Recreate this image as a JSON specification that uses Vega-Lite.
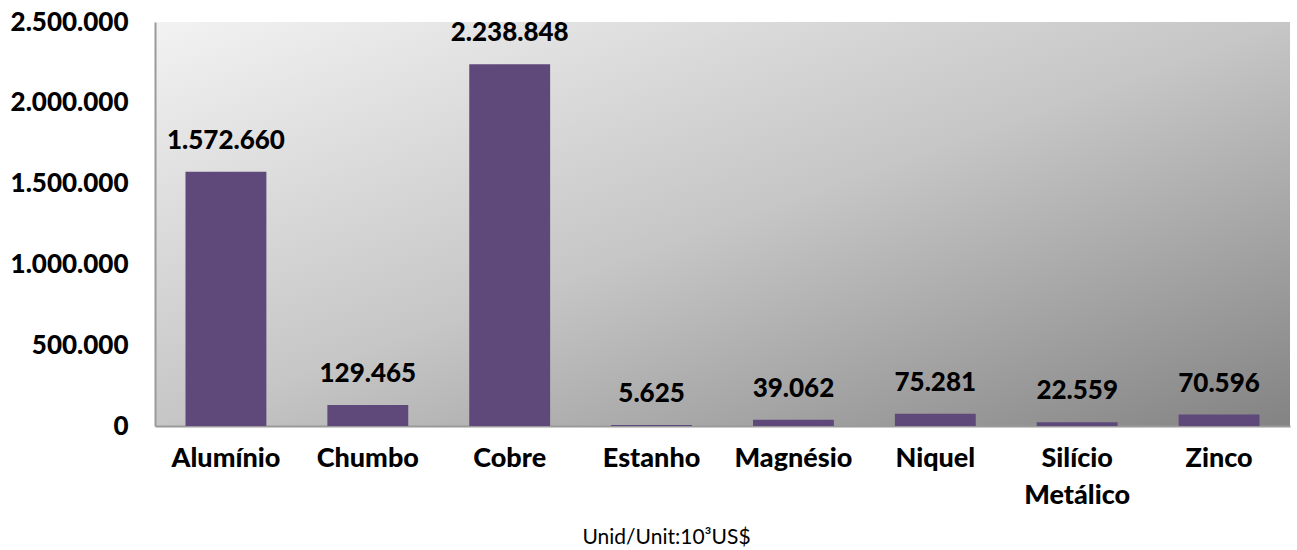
{
  "$schema": "https://vega.github.io/schema/vega-lite/v6.json",
  "autosize": {"type": "none"},
  "padding": {"left": 155, "top": 22, "right": 7, "bottom": 124},
  "width": 1135,
  "height": 404,
  "background": "white",
  "config": {
    "locale": {"number": {"decimal": ",", "thousands": ".", "grouping": [3], "currency": ["", ""]}},
    "view": {
      "stroke": null,
      "fill": {"gradient": "linear", "x1": 0, "y1": 0, "x2": 1, "y2": 1,
        "stops": [{"offset": 0, "color": "#f2f2f2"}, {"offset": 0.5, "color": "#c6c6c6"}, {"offset": 1, "color": "#838383"}]}
    },
    "font": "Lato"
  },
  "data": {"values": [
    {"metal": "Alumínio", "valor": 1572660},
    {"metal": "Chumbo", "valor": 129465},
    {"metal": "Cobre", "valor": 2238848},
    {"metal": "Estanho", "valor": 5625},
    {"metal": "Magnésio", "valor": 39062},
    {"metal": "Niquel", "valor": 75281},
    {"metal": "Silício Metálico", "valor": 22559},
    {"metal": "Zinco", "valor": 70596}
  ]},
  "encoding": {
    "x": {"field": "metal", "type": "nominal", "sort": null,
      "scale": {"paddingInner": 0.43, "paddingOuter": 0.215},
      "axis": {
        "title": "Unid/Unit:10³US$",
        "titleFont": "Lato", "titleFontWeight": "normal", "titleFontSize": 21, "titleColor": "#000",
        "titleX": 511, "titleY": 111, "titleBaseline": "middle", "titleAnchor": null, "titleAlign": "center",
        "labelAngle": 0, "labelFontSize": 27, "labelFontWeight": 900, "labelColor": "#000",
        "labelPadding": 19, "labelLineHeight": 37, "labelBaseline": "top",
        "labelExpr": "datum.label == 'Silício Metálico' ? ['Silício', 'Metálico'] : datum.label",
        "ticks": false, "domainColor": "#9a9a9a", "domainWidth": 2
      }
    },
    "y": {"field": "valor", "type": "quantitative",
      "scale": {"domain": [0, 2500000], "nice": false},
      "axis": {
        "title": null, "values": [0, 500000, 1000000, 1500000, 2000000, 2500000],
        "format": ",d", "labelFontSize": 26, "labelFontWeight": 900, "labelColor": "#000",
        "labelPadding": 27, "ticks": false, "grid": false,
        "domainColor": "#9a9a9a", "domainWidth": 2
      }
    }
  },
  "layer": [
    {"mark": {"type": "bar", "color": "#5f497a"}},
    {"mark": {"type": "text", "baseline": "bottom", "dy": -18, "fontSize": 26, "fontWeight": 900, "color": "#000", "font": "Lato"},
     "encoding": {"text": {"field": "valor", "type": "quantitative", "format": ",d"}}}
  ]
}
